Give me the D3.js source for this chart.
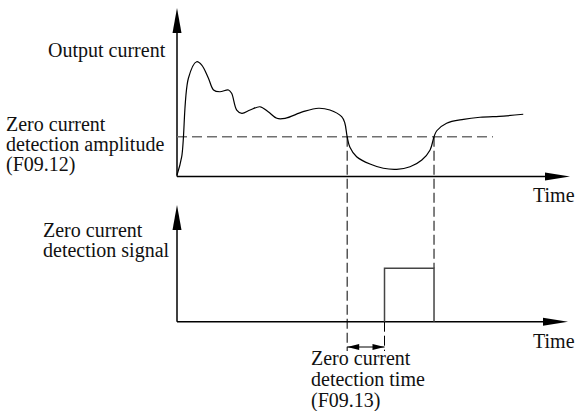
<!DOCTYPE html>
<html>
<head>
<meta charset="utf-8">
<script src="https://cdn.jsdelivr.net/npm/d3@7"></script>
<style>
  body { margin: 0; background: #fff; }
  text { font-family: "Liberation Serif", "Times New Roman", serif; font-size: 20px; fill: #111; }
</style>
</head>
<body>
<script>
// output current curve (time units 0..100, current units 0..100)
let curTime = [0, 1.2, 2.9, 5.0, 6.3, 8.0, 9.3, 10.9, 13.1, 13.9, 15.2, 16.5, 18.6, 21.1, 23.2, 25.4, 27.5, 32.1, 36.0, 38.9, 41.9, 42.7, 43.3, 44.0, 45.7, 49.1, 52.5, 55.9, 59.3, 62.3, 64.4, 65.4, 66.1, 68.6, 72.9, 77.1, 83.1, 88.1];
let curValue = [1, 13.2, 65.5, 76.5, 74.3, 65.5, 57.7, 56.5, 57.7, 55.5, 44.3, 42.1, 44.3, 46.5, 43.2, 38.8, 38.8, 43.2, 45.5, 44.3, 39.9, 35.7, 26.5, 19.5, 13.2, 8.3, 5.5, 4.8, 6.5, 11, 17.7, 26.5, 30.5, 35.5, 38.1, 39.5, 40.3, 41.5];

// zero current threshold (F09.12)
let threshold = 26.5;
let thresholdEnd = 80.4;

// crossings and detection time (F09.13)
let crossDown = 43.3;
let crossUp = 65.4;
let detectTime = 9.5;

// detection signal
let sigTime = [crossDown + detectTime, crossDown + detectTime, crossUp, crossUp];
let sigValue = [0, 1, 1, 0];

let leftLabel = ["Zero current", "detection amplitude", "(F09.12)"];
let sigLabel = ["Zero current", "detection signal"];
let timeLabel = ["Zero current", "detection time", "(F09.13)"];

let svgWidth = 577;
let svgHeight = 411;

let svg = d3.select("body").append("svg")
  .attr("width", svgWidth)
  .attr("height", svgHeight);

let x = d3.scaleLinear().domain([0, 100]).range([177, 570]);
let yCur = d3.scaleLinear().domain([0, 100]).range([176.5, 26.5]);
let ySig = d3.scaleLinear().domain([0, 1]).range([321.7, 268.3]);

// arrows
function arrowUp(px, tipY) {
  svg.append("path")
    .attr("d", `M${px},${tipY} L${px - 4.5},${tipY + 25} L${px + 4.5},${tipY + 25} Z`)
    .attr("fill", "#000");
}
function arrowRight(tipX, py) {
  svg.append("path")
    .attr("d", `M${tipX},${py} L${tipX - 25},${py - 4} L${tipX - 25},${py + 4} Z`)
    .attr("fill", "#000");
}

// upper axes
svg.append("line").attr("x1", x(0)).attr("y1", 20).attr("x2", x(0)).attr("y2", yCur(0))
  .attr("stroke", "#000").attr("stroke-width", 1.5);
svg.append("line").attr("x1", x(0)).attr("y1", yCur(0)).attr("x2", 555).attr("y2", yCur(0))
  .attr("stroke", "#000").attr("stroke-width", 1.5);
arrowUp(x(0), 8);
arrowRight(570, yCur(0));

// lower axes
svg.append("line").attr("x1", x(0)).attr("y1", 215).attr("x2", x(0)).attr("y2", ySig(0))
  .attr("stroke", "#000").attr("stroke-width", 1.5);
svg.append("line").attr("x1", x(0)).attr("y1", ySig(0)).attr("x2", 555).attr("y2", ySig(0))
  .attr("stroke", "#000").attr("stroke-width", 1.5);
arrowUp(x(0), 205);
arrowRight(568, ySig(0));

// threshold dashed line
svg.append("line")
  .attr("x1", x(0)).attr("y1", yCur(threshold))
  .attr("x2", x(thresholdEnd)).attr("y2", yCur(threshold))
  .attr("stroke", "#707070").attr("stroke-width", 1.5)
  .attr("stroke-dasharray", "10,5");

// current curve
let line = d3.line()
  .x(d => x(d[0]))
  .y(d => yCur(d[1]))
  .curve(d3.curveCatmullRom.alpha(0.5));
svg.append("path")
  .attr("d", line(d3.zip(curTime, curValue)))
  .attr("fill", "none")
  .attr("stroke", "#000")
  .attr("stroke-width", 1.2);

// vertical dashed guides
let dashGuides = [
  [crossDown, yCur(threshold), 351],
  [crossUp, yCur(threshold), ySig(1)],
  [crossDown + detectTime, ySig(0), 351]
];
dashGuides.forEach(g => {
  svg.append("line")
    .attr("x1", x(g[0])).attr("y1", g[1])
    .attr("x2", x(g[0])).attr("y2", g[2])
    .attr("stroke", "#000").attr("stroke-width", 1)
    .attr("stroke-dasharray", "10,4");
});

// detection signal pulse
let sigLine = d3.line().x(d => x(d[0])).y(d => ySig(d[1]));
svg.append("path")
  .attr("d", sigLine(d3.zip(sigTime, sigValue)))
  .attr("fill", "none")
  .attr("stroke", "#444")
  .attr("stroke-width", 1.5);

// double arrow for detection time
let ay = 347;
let ax1 = x(crossDown), ax2 = x(crossDown + detectTime);
svg.append("line").attr("x1", ax1).attr("y1", ay).attr("x2", ax2).attr("y2", ay)
  .attr("stroke", "#000").attr("stroke-width", 1);
svg.append("path").attr("d", `M${ax1},${ay} L${ax1 + 12},${ay - 3} L${ax1 + 12},${ay + 3} Z`).attr("fill", "#000");
svg.append("path").attr("d", `M${ax2},${ay} L${ax2 - 12},${ay - 3} L${ax2 - 12},${ay + 3} Z`).attr("fill", "#000");

// labels
svg.append("text").attr("x", 48).attr("y", 57).text("Output current");
leftLabel.forEach((t, i) => {
  svg.append("text").attr("x", 6).attr("y", 131 + i * 20).text(t);
});
sigLabel.forEach((t, i) => {
  svg.append("text").attr("x", 43).attr("y", 237 + i * 20).text(t);
});
timeLabel.forEach((t, i) => {
  svg.append("text").attr("x", 311).attr("y", 365 + i * 21).text(t);
});
svg.append("text").attr("x", 533).attr("y", 202).text("Time");
svg.append("text").attr("x", 533).attr("y", 348).text("Time");
</script>
</body>
</html>
